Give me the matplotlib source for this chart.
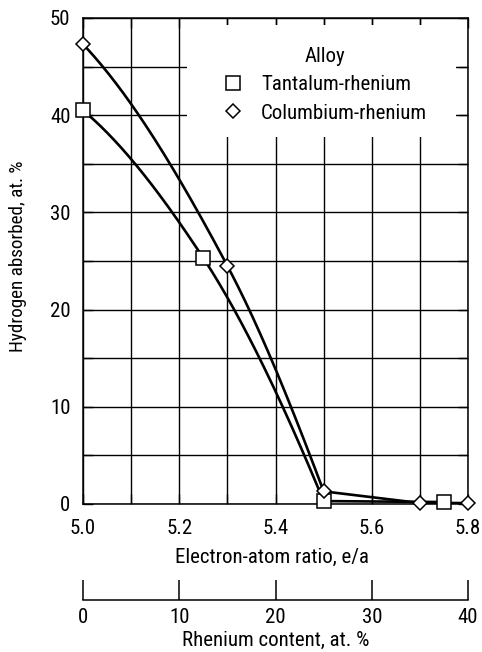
import numpy as np
import matplotlib
matplotlib.use("Agg")
import matplotlib.pyplot as plt
from matplotlib import font_manager as fm
from matplotlib.lines import Line2D
from matplotlib.patches import Rectangle
from matplotlib.ticker import MultipleLocator, FixedLocator, FixedFormatter

# узкий шрифт, если есть
have = set(f.name for f in fm.fontManager.ttflist)
cands = ['Roboto Condensed', 'PT Sans Narrow', 'Archivo Narrow', 'Liberation Sans Narrow',
         'Fira Sans Condensed', 'IBM Plex Sans Condensed', 'DejaVu Sans Condensed']
narrow = [c for c in cands if c in have]
plt.rcParams['font.family'] = narrow[:1] + ['DejaVu Sans']

# --- данные ---
ta_ea = [5.0, 5.25, 5.5, 5.75]
ta_h = [40.5, 25.3, 0.3, 0.2]
cb_ea = [5.0, 5.3, 5.5, 5.7, 5.8]
cb_h = [47.3, 24.5, 1.3, 0.1, 0.1]

ea_ticks = [5.0, 5.2, 5.4, 5.6, 5.8]
ea_labels = ["5.0", "5.2", "5.4", "5.6", "5.8"]
re_ticks = [0, 10, 20, 30, 40]
h_ticks = [0, 10, 20, 30, 40, 50]


def pchip_piece(x, y, n=80):
    # монотонный кубический сплайн (Fritsch-Carlson) для одного участка
    x = np.asarray(x, float)
    y = np.asarray(y, float)
    if len(x) == 2:
        return x, y
    h = np.diff(x)
    dl = np.diff(y) / h
    d = np.zeros(len(x))
    for k in range(1, len(x) - 1):
        if dl[k - 1] * dl[k] > 0:
            w1 = 2 * h[k] + h[k - 1]
            w2 = h[k] + 2 * h[k - 1]
            d[k] = (w1 + w2) / (w1 / dl[k - 1] + w2 / dl[k])
    d0 = ((2 * h[0] + h[1]) * dl[0] - h[0] * dl[1]) / (h[0] + h[1])
    if np.sign(d0) != np.sign(dl[0]):
        d0 = 0
    d[0] = d0
    dn = ((2 * h[-1] + h[-2]) * dl[-1] - h[-1] * dl[-2]) / (h[-1] + h[-2])
    if np.sign(dn) != np.sign(dl[-1]):
        dn = 0
    d[-1] = dn
    xs, ys = [], []
    for k in range(len(x) - 1):
        t = np.linspace(0, 1, n)
        h00 = 2 * t**3 - 3 * t**2 + 1
        h10 = t**3 - 2 * t**2 + t
        h01 = -2 * t**3 + 3 * t**2
        h11 = t**3 - t**2
        xs.append(x[k] + t * h[k])
        ys.append(y[k] * h00 + h[k] * d[k] * h10 + y[k + 1] * h01 + h[k] * d[k + 1] * h11)
    return np.concatenate(xs), np.concatenate(ys)


def smooth(x, y):
    # излом там, где наклон резко меняется (под маркером)
    dl = np.diff(y) / np.diff(x)
    cuts = [0]
    for k in range(1, len(x) - 1):
        if abs(dl[k - 1]) > 10 * max(abs(dl[k]), 1e-9):
            cuts.append(k)
    cuts.append(len(x) - 1)
    xs, ys = [], []
    for a, b in zip(cuts[:-1], cuts[1:]):
        px, py = pchip_piece(x[a:b + 1], y[a:b + 1])
        xs.append(px)
        ys.append(py)
    return np.concatenate(xs), np.concatenate(ys)


FS = 15

fig = plt.figure(figsize=(4.82, 6.52), dpi=100)
ax = fig.add_axes([0.1722, 0.227, 0.7988, 0.7454])

ax.set_xlim(5.0, 5.8)
ax.set_ylim(0, 50)
ax.xaxis.set_major_locator(FixedLocator(ea_ticks))
ax.xaxis.set_major_formatter(FixedFormatter(ea_labels))
ax.xaxis.set_minor_locator(MultipleLocator(0.1))
ax.yaxis.set_major_locator(FixedLocator(h_ticks))
ax.yaxis.set_minor_locator(MultipleLocator(5))
ax.grid(True, which='both', color='black', linewidth=1.0)
ax.tick_params(which='both', direction='in', top=True, right=True,
               length=7.2, width=1.0, color='black')
ax.tick_params(axis='x', which='major', pad=11, labelsize=FS)
ax.tick_params(axis='y', which='major', pad=9, labelsize=FS)
for s in ax.spines.values():
    s.set_linewidth(1.1)

# белое поле под легендой
ax.add_patch(Rectangle((0.27, 0.755), 0.70, 0.231, transform=ax.transAxes,
                       facecolor='white', edgecolor='none', zorder=1.8))

sx, sy = smooth(ta_ea, ta_h)
ax.plot(sx, sy, color='black', linewidth=1.9, zorder=3)
cx, cy = smooth(cb_ea, cb_h)
ax.plot(cx, cy, color='black', linewidth=1.9, zorder=3)
ax.plot(ta_ea, ta_h, linestyle='none', marker='s', markersize=9.4,
        markerfacecolor='white', markeredgecolor='black', markeredgewidth=1.1,
        zorder=4, clip_on=False)
ax.plot(cb_ea, cb_h, linestyle='none', marker='D', markersize=6.9,
        markerfacecolor='white', markeredgecolor='black', markeredgewidth=1.1,
        zorder=4, clip_on=False)

handles = [
    Line2D([], [], linestyle='none', marker='s', markersize=9.4,
           markerfacecolor='white', markeredgecolor='black', markeredgewidth=1.1),
    Line2D([], [], linestyle='none', marker='D', markersize=6.9,
           markerfacecolor='white', markeredgecolor='black', markeredgewidth=1.1),
]
leg = ax.legend(handles, ["Tantalum-rhenium", "Columbium-rhenium"], title="Alloy",
                loc='upper left', bbox_to_anchor=(0.338, 0.962), frameon=False,
                fontsize=FS, title_fontsize=FS, handlelength=0.9,
                handletextpad=0.9, labelspacing=0.45, borderpad=0)
leg.set_zorder(5)

ax.set_ylabel("Hydrogen absorbed, at. %", fontsize=13.8)
ax.yaxis.set_label_coords(-0.145, 0.51)
ax.set_xlabel("Electron-atom ratio, e/a", fontsize=FS, va='top')
ax.xaxis.set_label_coords(0.564, 0.16, transform=fig.transFigure)

# вторая шкала: содержание рения
ax2 = fig.add_axes([0.1722, 0.0798, 0.7988, 0.0001])
ax2.set_xlim(0, 40)
ax2.set_xticks(re_ticks)
ax2.set_yticks([])
for side in ['top', 'left', 'right']:
    ax2.spines[side].set_visible(False)
ax2.spines['bottom'].set_linewidth(1.1)
ax2.patch.set_visible(False)
ax2.tick_params(axis='x', direction='in', length=14.4, width=1.1, pad=6,
                labelsize=FS)
ax2.set_xlabel("Rhenium content, at. %", fontsize=FS, va='top')
ax2.xaxis.set_label_coords(0.571, 0.032, transform=fig.transFigure)

fig.savefig("out.png", dpi=100)
